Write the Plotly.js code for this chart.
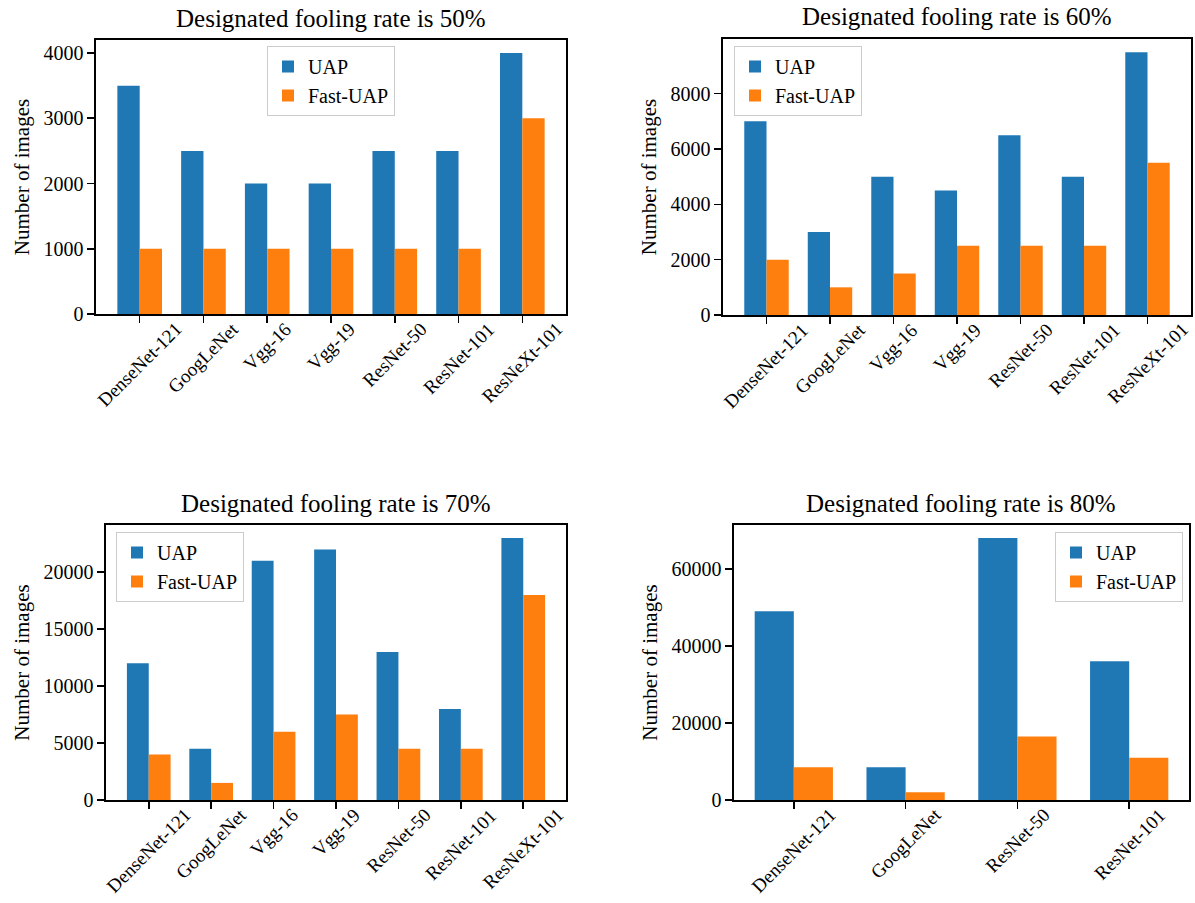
<!DOCTYPE html>
<html>
<head>
<meta charset="utf-8">
<script src="https://cdn.plot.ly/plotly-3.0.1.min.js"></script>
<style>html,body{margin:0;padding:0;background:#fff;}#chart{width:1195px;height:903px;}</style>
</head>
<body>
<div id="chart"></div>
<script>
// ---- data ----
const models7 = ["DenseNet-121", "GoogLeNet", "Vgg-16", "Vgg-19", "ResNet-50", "ResNet-101", "ResNeXt-101"];
const models4 = ["DenseNet-121", "GoogLeNet", "ResNet-50", "ResNet-101"];

const uap50  = [3500, 2500, 2000, 2000, 2500, 2500, 4000];
const fast50 = [1000, 1000, 1000, 1000, 1000, 1000, 3000];

const uap60  = [7000, 3000, 5000, 4500, 6500, 5000, 9500];
const fast60 = [2000, 1000, 1500, 2500, 2500, 2500, 5500];

const uap70  = [12000, 4500, 21000, 22000, 13000, 8000, 23000];
const fast70 = [4000, 1500, 6000, 7500, 4500, 4500, 18000];

const uap80  = [49000, 8500, 68000, 36000];
const fast80 = [8500, 2000, 16500, 11000];

const titles = ["Designated fooling rate is 50%", "Designated fooling rate is 60%",
                "Designated fooling rate is 70%", "Designated fooling rate is 80%"];
const seriesNames = ["UAP", "Fast-UAP"];
const yTickStep = [1000, 2000, 5000, 20000];
const yLabel = "Number of images";

// ---- layout helpers ----
const W = 1195, H = 903;
const FONT = '"Liberation Serif", "Times New Roman", Times, serif';
const BLUE = '#1f77b4', ORANGE = '#ff7f0e';
const fx = v => v / W;
const fy = v => 1 - v / H;

const panels = [
  {cats: models7, a: uap50, b: fast50, box: [96, 40, 566, 314],
   legend: {x: 331, y: 46, xanchor: 'center'}},
  {cats: models7, a: uap60, b: fast60, box: [723, 39, 1191, 315],
   legend: {x: 734, y: 46, xanchor: 'left'}},
  {cats: models7, a: uap70, b: fast70, box: [106, 525, 566, 800],
   legend: {x: 116, y: 532, xanchor: 'left'}},
  {cats: models4, a: uap80, b: fast80, box: [734, 525, 1189, 800],
   legend: {x: 1183, y: 532, xanchor: 'right'}}
];

const traces = [];
const layout = {
  width: W, height: H,
  margin: {l: 0, r: 0, t: 0, b: 0},
  paper_bgcolor: '#fff', plot_bgcolor: '#fff',
  font: {family: FONT, size: 20, color: '#000'},
  barmode: 'group', bargap: 0.3, bargroupgap: 0,
  annotations: [],
  showlegend: true
};

panels.forEach((p, i) => {
  const k = i + 1;
  const xa = 'x' + (k === 1 ? '' : k), ya = 'y' + (k === 1 ? '' : k);
  const legName = 'legend' + (k === 1 ? '' : k);
  [p.a, p.b].forEach((vals, j) => {
    traces.push({
      type: 'bar', x: p.cats, y: vals, name: seriesNames[j],
      xaxis: xa, yaxis: ya, legend: legName,
      marker: {color: j === 0 ? BLUE : ORANGE, line: {width: 0}},
      offsetgroup: String(j), hoverinfo: 'skip'
    });
  });
  const [l, t, r, b] = p.box;
  const n = p.cats.length;
  const maxV = Math.max(...p.a, ...p.b);
  const axKey = 'xaxis' + (k === 1 ? '' : k), ayKey = 'yaxis' + (k === 1 ? '' : k);
  layout[axKey] = {
    domain: [fx(l), fx(r)], anchor: ya,
    type: 'category', range: [-0.35 - 0.05 * (n - 0.3), n - 1 + 0.35 + 0.05 * (n - 0.3)],
    showline: true, linecolor: '#000', linewidth: 1.6, mirror: true,
    ticks: 'outside', ticklen: 7, tickwidth: 1.6, tickcolor: '#000',
    showticklabels: false, showgrid: false, zeroline: false, fixedrange: true
  };
  layout[ayKey] = {
    domain: [fy(b), fy(t)], anchor: xa,
    range: [0, maxV * 1.05], dtick: yTickStep[i], tick0: 0, tickformat: 'd',
    showline: true, linecolor: '#000', linewidth: 1.6, mirror: true,
    ticks: 'outside', ticklen: 7, tickwidth: 1.6, tickcolor: '#000',
    tickfont: {family: FONT, size: 20, color: '#000'},
    showgrid: false, zeroline: false, fixedrange: true,
    title: {text: yLabel, font: {family: FONT, size: 21, color: '#000'}, standoff: 8}
  };
  layout[legName] = {
    x: fx(p.legend.x), y: fy(p.legend.y), xanchor: p.legend.xanchor, yanchor: 'top',
    xref: 'paper', yref: 'paper',
    bgcolor: 'rgba(255,255,255,0.8)', bordercolor: '#cccccc', borderwidth: 1,
    font: {family: FONT, size: 20, color: '#000'},
    tracegroupgap: 0, itemclick: false, itemdoubleclick: false
  };
  // subplot title
  layout.annotations.push({
    text: titles[i], xref: 'paper', yref: 'paper',
    x: fx((l + r) / 2), y: fy(t), xanchor: 'center', yanchor: 'middle', yshift: 22,
    showarrow: false, font: {family: FONT, size: 25, color: '#000'}
  });
  // rotated category labels centred under each tick
  p.cats.forEach(c => {
    layout.annotations.push({
      text: c, xref: xa, yref: 'paper', x: c, y: fy(b),
      xanchor: 'center', yanchor: 'top', yshift: -3, textangle: -45, borderpad: 0,
      showarrow: false, font: {family: FONT, size: 19, color: '#000'}
    });
  });
});

Plotly.newPlot('chart', traces, layout, {displayModeBar: false, staticPlot: true});
</script>
</body>
</html>
